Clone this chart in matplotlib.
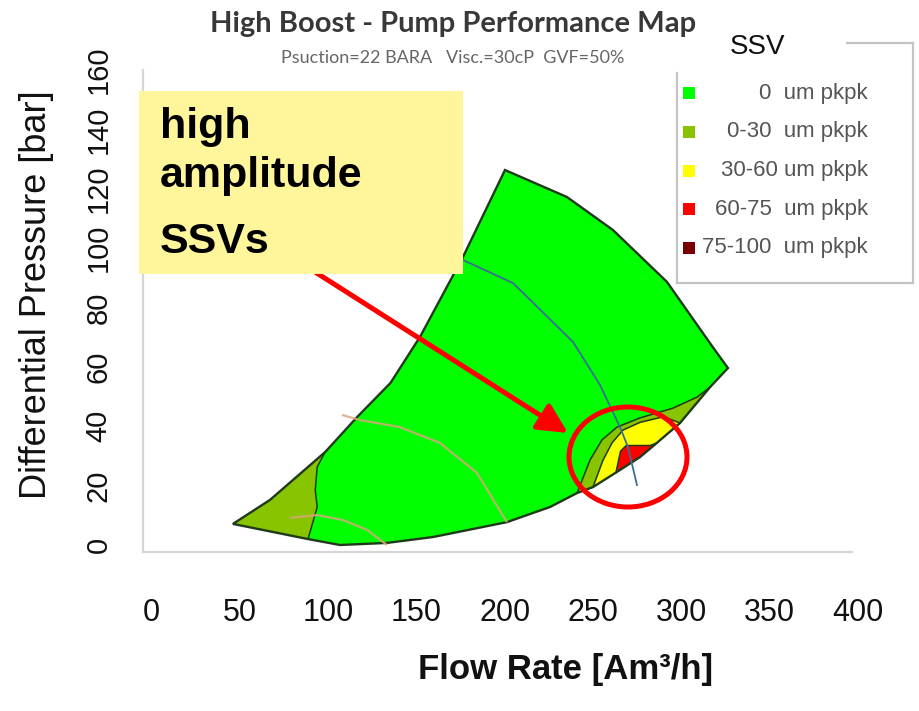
import matplotlib
matplotlib.use("Agg")
import matplotlib.pyplot as plt
from matplotlib.patches import Rectangle, Ellipse, FancyArrowPatch
from matplotlib.lines import Line2D

plt.rcParams['font.family'] = ['Liberation Sans', 'DejaVu Sans']

# ---------------- data ----------------
x_ticks = [0, 50, 100, 150, 200, 250, 300, 350, 400]
y_ticks = [0, 20, 40, 60, 80, 100, 120, 140, 160]

# operating envelope (flow Am3/h, differential pressure bar)
envelope_flow = [46.2, 88.7, 106.8, 133.4, 159.6, 201.3, 225.7, 241.0, 250.0, 263.0,
                 276.6, 286.2, 299.3, 316.3, 326.4, 318.0, 291.9, 261.3, 235.3, 200.2,
                 176.4, 152.1, 135.4, 116.5, 98.4, 67.2]
envelope_dp = [7.1, 2.0, 0.0, 0.7, 2.7, 7.7, 12.8, 17.5, 19.5, 24.4,
               29.6, 34.4, 41.1, 53.2, 59.6, 66.5, 88.6, 106.1, 117.2, 126.3,
               97.0, 70.1, 54.6, 43.1, 31.3, 15.2]

# 0-30 um region, low-flow corner
olive_left_flow = [46.2, 67.2, 98.4, 93.9, 92.8, 93.9, 88.7]
olive_left_dp = [7.1, 15.2, 31.3, 26.3, 18.5, 12.8, 2.0]

# 0-30 um region, high-flow / low-pressure band
olive_right_flow = [241.0, 248.3, 255.1, 263.6, 276.6, 295.3, 308.9, 316.3,
                    299.3, 286.2, 276.6, 263.0, 250.0]
olive_right_dp = [17.5, 28.6, 35.4, 39.7, 42.8, 46.1, 49.8, 53.2,
                  41.1, 34.4, 29.6, 24.4, 19.5]

# 30-60 um region
yellow_flow = [250.0, 255.7, 260.8, 267.0, 276.6, 290.0, 299.3,
               286.2, 276.6, 263.0]
yellow_dp = [19.5, 28.6, 34.4, 38.7, 41.3, 43.2, 41.1,
             34.4, 29.6, 24.4]

# 60-75 um region
red_flow = [263.0, 265.6, 268.8, 282.3, 286.2, 276.6]
red_dp = [24.4, 31.6, 33.5, 33.5, 34.4, 29.6]

# blue curve
blue_flow = [176.4, 204.8, 238.7, 254.0, 265.3, 269.8, 274.9]
blue_dp = [96.0, 88.2, 68.4, 53.9, 39.7, 33.0, 20.2]

# tan curves
tan1_flow = [108.0, 118.1, 140.7, 163.3, 184.3, 201.3]
tan1_dp = [43.8, 42.1, 39.7, 34.4, 24.3, 7.7]
tan2_flow = [78.5, 93.8, 108.5, 122.1, 133.4]
tan2_dp = [9.1, 10.1, 8.4, 5.1, 0.0]

legend_labels = ["0  um pkpk", "0-30  um pkpk", "30-60 um pkpk",
                 "60-75  um pkpk", "75-100  um pkpk"]
legend_colors = ["#00ff00", "#88c400", "#ffff00", "#ff0000", "#7a0000"]

C_GREEN, C_OLIVE, C_YELLOW, C_RED = legend_colors[0], legend_colors[1], legend_colors[2], legend_colors[3]

# ---------------- figure ----------------
W, H = 919, 711
fig = plt.figure(figsize=(W / 100, H / 100), dpi=100)


def fx(px):
    return px / W


def fy(py):
    return 1 - py / H


X0, XS = 151.3, 1.7667   # pixel of x=0, pixels per unit
Y0, YS = 545.0, 2.969    # pixel of y=0, pixels per unit
left_px, right_px = 143.0, X0 + XS * 400
top_px, bottom_px = Y0 - YS * 160, 552.0

ax = fig.add_axes([fx(left_px), fy(bottom_px),
                   (right_px - left_px) / W, (bottom_px - top_px) / H])
ax.set_xlim((left_px - X0) / XS, 400)
ax.set_ylim((Y0 - bottom_px) / YS, 160)
ax.patch.set_alpha(0)

for s in ['top', 'right']:
    ax.spines[s].set_visible(False)
for s in ['left', 'bottom']:
    ax.spines[s].set_color('#d6d6d6')
    ax.spines[s].set_linewidth(1.6)
ax.spines['bottom'].set_bounds((left_px - X0) / XS, 396.6)

ax.set_xticks(x_ticks)
ax.set_yticks(y_ticks)
ax.tick_params(axis='x', length=0, pad=33, labelsize=22, labelcolor='#111111')
ax.tick_params(axis='y', length=0, pad=22, labelsize=21, labelcolor='#111111')
for lbl in ax.get_yticklabels():
    lbl.set_rotation(90)
    lbl.set_va('center')

# regions
ax.fill(envelope_flow, envelope_dp, color=C_GREEN, lw=0, zorder=1)
ax.fill(olive_left_flow, olive_left_dp, color=C_OLIVE, lw=0, zorder=2)
ax.fill(olive_right_flow, olive_right_dp, color=C_OLIVE, lw=0, zorder=2)
ax.fill(yellow_flow, yellow_dp, color=C_YELLOW, lw=0, zorder=3)
ax.fill(red_flow, red_dp, color=C_RED, lw=0, zorder=4)

edge_c = '#1f3a1a'
ax.plot(olive_left_flow[2:], olive_left_dp[2:], color=edge_c, lw=1.1, zorder=5)
ax.plot(olive_right_flow[:8], olive_right_dp[:8], color=edge_c, lw=1.1, zorder=5)
ax.plot(yellow_flow[:7], yellow_dp[:7], color=edge_c, lw=1.1, zorder=5)
ax.plot(red_flow[:5], red_dp[:5], color=edge_c, lw=1.1, zorder=5)
ax.fill(envelope_flow, envelope_dp, facecolor='none', edgecolor=edge_c, lw=1.7, zorder=6)

ax.plot(tan1_flow, tan1_dp, color='#d9a67c', lw=1.6, alpha=0.85, zorder=7,
        solid_capstyle='butt')
ax.plot(tan2_flow, tan2_dp, color='#d9a67c', lw=1.6, alpha=0.85, zorder=7,
        solid_capstyle='butt')
ax.plot(blue_flow, blue_dp, color='#3b6d98', lw=1.3, zorder=8)

# ---------------- texts ----------------
fig.text(fx(453), fy(24), "High Boost - Pump Performance Map", ha='center', va='center',
         fontsize=21, fontweight='bold', family=['Lato', 'DejaVu Sans'], color='#383838')
fig.text(fx(453), fy(58), "Psuction=22 BARA   Visc.=30cP  GVF=50%", ha='center', va='center',
         fontsize=13, family=['Lato', 'DejaVu Sans'], color='#666666')

fig.text(fx(566), fy(670), "Flow Rate [Am³/h]", ha='center', va='center',
         fontsize=25, fontweight='bold', color='#111111')
fig.text(fx(37), fy(295), "Differential Pressure [bar]", ha='center', va='center',
         rotation=90, fontsize=26, color='#111111')

# ---------------- legend ----------------
lg_c = '#c4c4c4'
for xs, ys in [([677, 677], [73, 283]), ([677, 913], [283, 283]),
               ([913, 913], [43, 283]), ([847, 913], [43, 43])]:
    fig.add_artist(Line2D([fx(v) for v in xs], [fy(v) for v in ys],
                          color=lg_c, lw=1.6))
fig.text(fx(758), fy(47), "SSV", ha='center', va='center', fontsize=20, color='#111111')
for i, (lab, col) in enumerate(zip(legend_labels, legend_colors)):
    yc = 93 + i * 38.75
    fig.add_artist(Rectangle((fx(683), fy(yc + 6)), 12 / W, 12 / H,
                             facecolor=col, edgecolor='none', transform=fig.transFigure))
    fig.text(fx(868), fy(yc), lab, ha='right', va='center', fontsize=16, color='#555555')

# ---------------- annotation ----------------
arrow = FancyArrowPatch((fx(312), fy(270)), (fx(568), fy(433)),
                        transform=fig.transFigure, arrowstyle='-|>,head_length=1.0,head_width=0.5',
                        mutation_scale=18, color='#ff0000', lw=3.6, zorder=9,
                        shrinkA=0, shrinkB=0)
fig.add_artist(arrow)

fig.add_artist(Rectangle((fx(139), fy(274)), (463 - 139) / W, (274 - 91) / H,
                         facecolor='#fff59a', edgecolor='none',
                         transform=fig.transFigure, zorder=10))
for txt, base in [("high", 138), ("amplitude", 187), ("SSVs", 253)]:
    fig.text(fx(160), fy(base), txt, ha='left', va='baseline', fontsize=31,
             fontweight='bold', color='#000000', zorder=11)

fig.add_artist(Ellipse((fx(628), fy(457)), 118 / W, 100 / H, facecolor='none',
                       edgecolor='#ff0000', lw=3.6, transform=fig.transFigure, zorder=9))

fig.savefig("out.png", dpi=100)
